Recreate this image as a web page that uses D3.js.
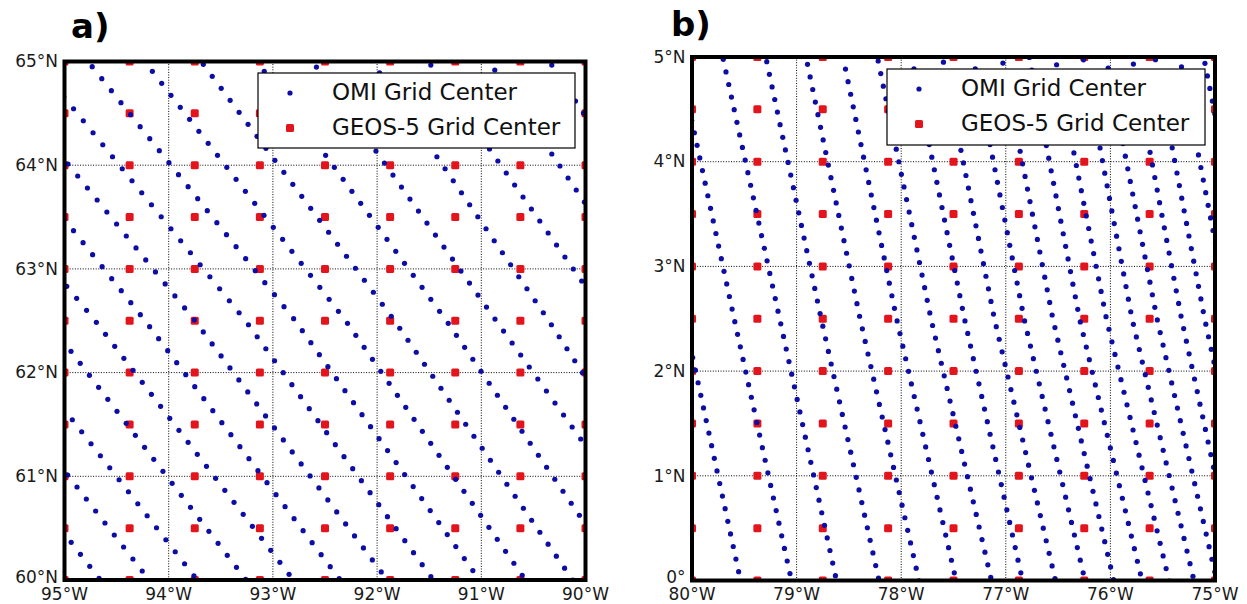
<!DOCTYPE html>
<html>
<head>
<meta charset="utf-8">
<script src="https://cdn.jsdelivr.net/npm/d3@7"></script>
<style>
  body { margin: 0; background: #fff; }
  text { font-family: "DejaVu Sans", sans-serif; }
</style>
</head>
<body>
<svg id="chart" width="1247" height="604"></svg>
<script>
// graticule ticks
const lonTicksA = [-95, -94, -93, -92, -91, -90]
const latTicksA = [60, 61, 62, 63, 64, 65]
const lonTicksB = [-80, -79, -78, -77, -76, -75]
const latTicksB = [0, 1, 2, 3, 4, 5]

// GEOS-5 grid centres (0.625 x 0.5 deg)
const geosLonA = [-95, -94.375, -93.75, -93.125, -92.5, -91.875, -91.25, -90.625, -90]
const geosLatA = [60, 60.5, 61, 61.5, 62, 62.5, 63, 63.5, 64, 64.5, 65]
const geosLonB = [-80, -79.375, -78.75, -78.125, -77.5, -76.875, -76.25, -75.625, -75]
const geosLatB = [0, 0.5, 1, 1.5, 2, 2.5, 3, 3.5, 4, 4.5, 5]

// OMI along-track rows:
// lon of each row at the top / middle / bottom latitude of the panel,
// the latitude of one pixel centre on the row, and the along-track spacing
const omiA_lonTop = [-98.657, -98.191, -97.718, -97.212, -96.758, -96.206, -95.763, -95.281, -94.774, -94.230, -93.688, -93.152, -92.620, -92.050, -91.508, -90.926, -90.346]
const omiA_lonMid = [-96.584, -96.118, -95.666, -95.162, -94.706, -94.226, -93.748, -93.262, -92.785, -92.301, -91.832, -91.334, -90.857, -90.352, -89.770, -89.237, -88.704]
const omiA_lonBot = [-94.656, -94.187, -93.726, -93.256, -92.803, -92.354, -91.903, -91.461, -91.017, -90.576, -90.123, -89.634, -89.079, -88.738, -88.133, -87.654, -87.126]
const omiA_latRef = [60.016, 60.087, 60.041, 60.007, 62.716, 62.674, 62.739, 62.693, 64.950, 64.905, 64.973, 62.707, 62.748, 62.693, 64.966, 64.918, 64.966]
const omiA_dlat = 0.1157

const omiB_lonTop = [-80.610, -80.132, -79.706, -79.295, -78.910, -78.556, -78.228, -77.901, -77.606, -77.314, -77.039, -76.775, -76.529, -76.262, -76.042, -75.793, -75.574, -75.338, -75.108]
const omiB_lonMid = [-80.073, -79.597, -79.162, -78.765, -78.393, -78.044, -77.715, -77.395, -77.109, -76.825, -76.550, -76.295, -76.038, -75.793, -75.554, -75.320, -75.099, -74.857, -74.618]
const omiB_lonBot = [-79.536, -79.049, -78.619, -78.212, -77.830, -77.476, -77.137, -76.840, -76.525, -76.243, -75.968, -75.698, -75.440, -75.201, -74.983, -74.780, -74.560, -74.321, -74.082]
const omiB_latRef = [1.167, 2.472, 4.978, 4.955, 4.930, 4.885, 4.962, 2.600, 2.545, 2.600, 2.536, 2.590, 2.520, 2.567, 2.609, 2.526, 2.689, 4.907, 4.940]
const omiB_dlat = 0.1203

const legendLabels = ["OMI Grid Center", "GEOS-5 Grid Center"]

const omiColor = "#0c0ca6"
const geosColor = "#e3141b"

const panels = [
  { id: "a", title: "a)", lonTicks: lonTicksA, latTicks: latTicksA,
    geosLon: geosLonA, geosLat: geosLatA,
    omi: { top: omiA_lonTop, mid: omiA_lonMid, bot: omiA_lonBot, ref: omiA_latRef, dlat: omiA_dlat },
    box: { x0: 64.5, x1: 585.5, y0: 61.5, y1: 580 },
    titlePos: [71, 38],
    legend: { x: 258, y: 73, w: 317, h: 75 } },
  { id: "b", title: "b)", lonTicks: lonTicksB, latTicks: latTicksB,
    geosLon: geosLonB, geosLat: geosLatB,
    omi: { top: omiB_lonTop, mid: omiB_lonMid, bot: omiB_lonBot, ref: omiB_latRef, dlat: omiB_dlat },
    box: { x0: 692, x1: 1215, y0: 57, y1: 580.5 },
    titlePos: [671, 36],
    legend: { x: 887, y: 69, w: 318, h: 76 } }
]

const svg = d3.select("#chart")

const latLabel = v => v === 0 ? "0\u00b0" : `${v}\u00b0N`
const lonLabel = v => `${Math.abs(v)}\u00b0W`

panels.forEach(p => {
  const lonExt = d3.extent(p.lonTicks)
  const latExt = d3.extent(p.latTicks)
  const x = d3.scaleLinear().domain(lonExt).range([p.box.x0, p.box.x1])
  const y = d3.scaleLinear().domain(latExt).range([p.box.y1, p.box.y0])

  const g = svg.append("g")

  g.append("clipPath").attr("id", "clip-" + p.id)
    .append("rect")
      .attr("x", p.box.x0).attr("y", p.box.y0)
      .attr("width", p.box.x1 - p.box.x0).attr("height", p.box.y1 - p.box.y0)

  const plot = g.append("g").attr("clip-path", `url(#clip-${p.id})`)

  // dotted graticule
  plot.selectAll(".vgrid").data(p.lonTicks).join("line")
    .attr("x1", d => x(d)).attr("x2", d => x(d))
    .attr("y1", p.box.y0).attr("y2", p.box.y1)
    .attr("stroke", "#000").attr("stroke-width", 1).attr("stroke-dasharray", "1,1.6")
  plot.selectAll(".hgrid").data(p.latTicks).join("line")
    .attr("y1", d => y(d)).attr("y2", d => y(d))
    .attr("x1", p.box.x0).attr("x2", p.box.x1)
    .attr("stroke", "#000").attr("stroke-width", 1).attr("stroke-dasharray", "1,1.6")

  // GEOS-5 centres
  const geos = d3.cross(p.geosLon, p.geosLat)
  const sq = 8
  plot.selectAll(".geos").data(geos).join("rect")
    .attr("x", d => x(d[0]) - sq / 2).attr("y", d => y(d[1]) - sq / 2)
    .attr("width", sq).attr("height", sq).attr("rx", 1.5)
    .attr("fill", geosColor)

  // OMI centres: step along each row from its reference pixel
  const omiPts = []
  p.omi.ref.forEach((lat0, i) => {
    const row = d3.scaleLinear()
      .domain([latExt[0], (latExt[0] + latExt[1]) / 2, latExt[1]])
      .range([p.omi.bot[i], p.omi.mid[i], p.omi.top[i]])
    const kMin = Math.floor((latExt[0] - lat0) / p.omi.dlat) - 1
    const kMax = Math.ceil((latExt[1] - lat0) / p.omi.dlat) + 1
    d3.range(kMin, kMax + 1).forEach(k => {
      const lat = lat0 + k * p.omi.dlat
      omiPts.push([row(lat), lat])
    })
  })
  plot.selectAll(".omi").data(omiPts).join("circle")
    .attr("cx", d => x(d[0])).attr("cy", d => y(d[1]))
    .attr("r", 2.6).attr("fill", omiColor)

  // frame
  g.append("rect")
    .attr("x", p.box.x0).attr("y", p.box.y0)
    .attr("width", p.box.x1 - p.box.x0).attr("height", p.box.y1 - p.box.y0)
    .attr("fill", "none").attr("stroke", "#000").attr("stroke-width", 4)

  // tick labels (the lowest latitude label sits a little above its line)
  g.selectAll(".latlab").data(p.latTicks).join("text")
    .attr("x", p.box.x0 - 6.5).attr("y", d => Math.min(y(d), p.box.y1 - 3)).attr("dy", "0.34em")
    .attr("text-anchor", "end").attr("font-size", 17).attr("fill", "#1a1a1a")
    .text(latLabel)
  g.selectAll(".lonlab").data(p.lonTicks).join("text")
    .attr("x", d => x(d)).attr("y", 599.5)
    .attr("text-anchor", "middle").attr("font-size", 17).attr("fill", "#1a1a1a")
    .text(lonLabel)

  // panel title
  g.append("text")
    .attr("x", p.titlePos[0]).attr("y", p.titlePos[1])
    .attr("font-family", "'Liberation Sans', Arial, sans-serif")
    .attr("font-weight", "bold").attr("font-size", 34).attr("fill", "#000")
    .text(p.title)

  // legend
  const L = p.legend
  const lg = g.append("g")
  lg.append("rect")
    .attr("x", L.x).attr("y", L.y).attr("width", L.w).attr("height", L.h)
    .attr("fill", "#fff").attr("stroke", "#000").attr("stroke-width", 1.2)
  lg.append("circle")
    .attr("cx", L.x + 32).attr("cy", L.y + 20).attr("r", 2.6).attr("fill", omiColor)
  lg.append("rect")
    .attr("x", L.x + 32 - sq / 2).attr("y", L.y + 55 - sq / 2)
    .attr("width", sq).attr("height", sq).attr("rx", 1.5).attr("fill", geosColor)
  lg.selectAll(".lt").data(legendLabels).join("text")
    .attr("x", L.x + 74).attr("y", (d, i) => L.y + 27 + i * 35)
    .attr("font-size", 23).attr("fill", "#111")
    .text(d => d)
})
</script>
</body>
</html>
